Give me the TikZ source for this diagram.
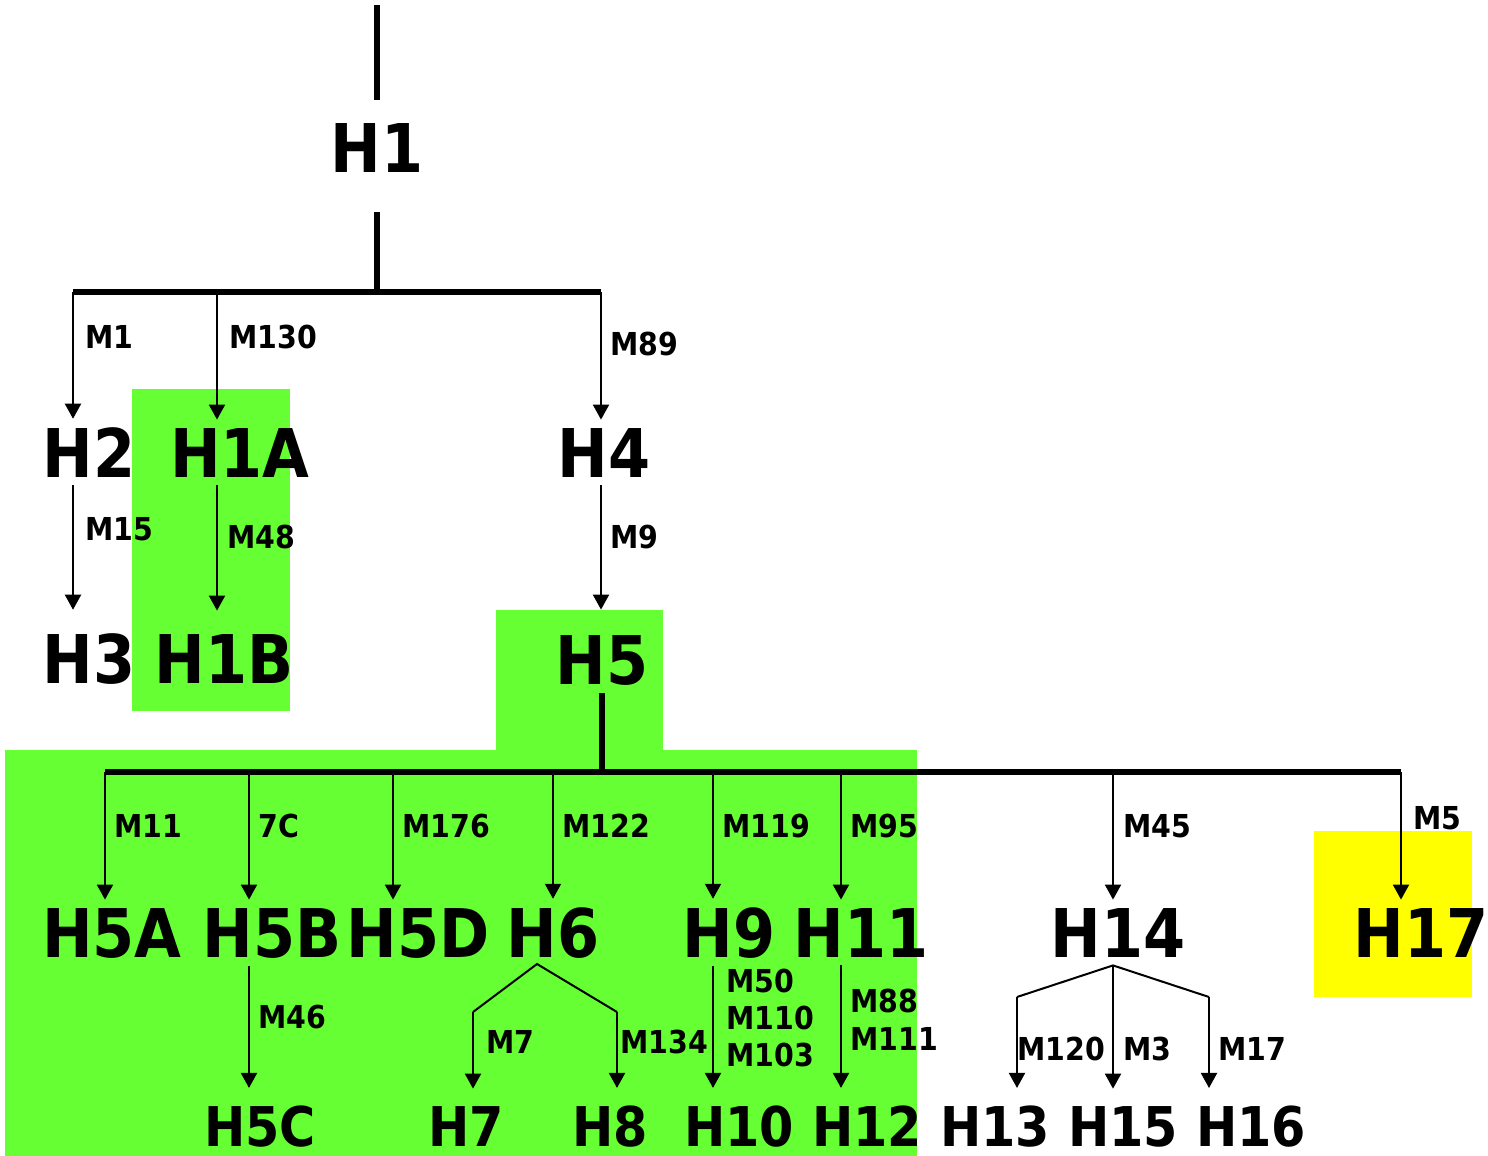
\documentclass[tikz,border=0pt]{standalone}
\usepackage{fontspec}
\setmainfont{DejaVu Sans}[FakeStretch=0.9]
\usetikzlibrary{arrows.meta}
\definecolor{hapgreen}{HTML}{66FF33}
\definecolor{hapyellow}{HTML}{FFFF00}

\tikzset{
  hap/.style={font=\bfseries\fontsize{33.6}{40}\selectfont, anchor=base,
    inner xsep=0pt, inner ysep=4pt},
  hapsmall/.style={hap, font=\bfseries\fontsize{27.4}{33}\selectfont,
    inner ysep=0.5pt},
  mut/.style={font=\bfseries\fontsize{15.8}{19}\selectfont, anchor=base west,
    inner sep=0pt},
  trunk/.style={line width=3pt},
  drop/.style={line width=1pt, -{Triangle[width=8pt,length=7.5pt]}},
  fork/.style={line width=1pt, line join=miter},
}

\begin{document}
\begin{tikzpicture}[x=0.5pt,y=-0.5pt]
	\useasboundingbox (0,0) rectangle (1488,1156);

	% shaded groups
	\fill[hapgreen] (132,389) rectangle (290,711);
	\fill[hapgreen] (496,610) rectangle (663,751);
	\fill[hapgreen] (5,750) rectangle (917,1156);
	\fill[hapyellow] (1314,831) rectangle (1472,997);

	% haplotypes
	\node[hap] (h1) at (377,172) {H1};

	\node[hap] (h2) at (89,477) {H2};
	\node[hap] (h1a) at (240,477) {H1A};
	\node[hap] (h4) at (604,477) {H4};

	\node[hap] (h3) at (89,683) {H3};
	\node[hap] (h1b) at (224,683) {H1B};
	\node[hap] (h5) at (602,684) {H5};

	\node[hap] (h5a) at (112,957) {H5A};
	\node[hap] (h5b) at (272,957) {H5B};
	\node[hap] (h5d) at (418,957) {H5D};
	\node[hap] (h6) at (553,957) {H6};
	\node[hap] (h9) at (729,957) {H9};
	\node[hap] (h11) at (861,957) {H11};
	\node[hap] (h14) at (1118,957) {H14};
	\node[hap] (h17) at (1421,957) {H17};

	\node[hapsmall] (h5c) at (260,1146) {H5C};
	\node[hapsmall] (h7) at (466,1146) {H7};
	\node[hapsmall] (h8) at (610,1146) {H8};
	\node[hapsmall] (h10) at (739,1146) {H10};
	\node[hapsmall] (h12) at (867,1146) {H12};
	\node[hapsmall] (h13) at (995,1146) {H13};
	\node[hapsmall] (h15) at (1123,1146) {H15};
	\node[hapsmall] (h16) at (1251,1146) {H16};

	% branch points
	\coordinate (root) at (377,5);
	\coordinate (b-h2) at (73,292);
	\coordinate (b-h1a) at (217,292);
	\coordinate (b-h4) at (601,292);

	\coordinate (b-h5a) at (105,772);
	\coordinate (b-h5b) at (249,772);
	\coordinate (b-h5d) at (393,772);
	\coordinate (b-h6) at (553,772);
	\coordinate (b-h9) at (713,772);
	\coordinate (b-h11) at (841,772);
	\coordinate (b-h14) at (1113,772);
	\coordinate (b-h17) at (1401,772);

	\coordinate (a6) at (537,964);
	\coordinate (k7) at (473,1012);
	\coordinate (k8) at (617,1012);
	\coordinate (a14) at (b-h14 |- h14.south);
	\coordinate (k13) at (1017,997);
	\coordinate (k16) at (1209,997);

	% trunks
	\draw[trunk, shorten >=7.5pt] (root) -- (root |- h1.north);
	\draw[trunk, shorten <=16pt] (h1.south) -- (h1 |- b-h2);
	\draw[trunk] (b-h2) -- (b-h4);
	\draw[trunk] (h5.south) -- (h5 |- b-h5a);
	\draw[trunk] (b-h5a) -- (b-h17);

	% first split
	\draw[drop] (b-h2) -- (b-h2 |- h2.north);
	\draw[drop] (b-h1a) -- (b-h1a |- h1a.north);
	\draw[drop] (b-h4) -- (b-h4 |- h4.north);
	\draw[drop, shorten >=7.5pt] (b-h2 |- h2.south) -- (b-h2 |- h3.north);
	\draw[drop, shorten >=7.5pt] (b-h1a |- h1a.south) -- (b-h1a |- h1b.north);
	\draw[drop, shorten >=8.5pt] (b-h4 |- h4.south) -- (b-h4 |- h5.north);

	% second split
	\foreach \h in {h5a,h5b,h5d,h6,h9,h11,h14,h17}
		\draw[drop] (b-\h) -- (b-\h |- \h.north);

	\draw[drop, shorten >=8pt] (b-h5b |- h5b.south) -- (b-h5b |- h5c.north);
	\draw[drop, shorten >=8pt] (b-h9 |- h9.south) -- (b-h9 |- h10.north);
	\draw[drop, shorten >=8pt] (b-h11 |- h11.south) -- (b-h11 |- h12.north);

	\draw[fork] (k7) -- (a6) -- (k8);
	\draw[drop, shorten >=8pt] (k7) -- (k7 |- h7.north);
	\draw[drop, shorten >=8pt] (k8) -- (k8 |- h8.north);

	\draw[fork] (k13) -- (a14) -- (k16);
	\draw[drop, shorten >=8pt] (k13) -- (k13 |- h13.north);
	\draw[drop, shorten >=8pt] (a14) -- (a14 |- h15.north);
	\draw[drop, shorten >=8pt] (k16) -- (k16 |- h16.north);

	% mutations
	\node[mut] (m1) at (85,348) {M1};
	\node[mut] (m130) at (229,348) {M130};
	\node[mut] (m89) at (610,355) {M89};
	\node[mut] (m15) at (85,540) {M15};
	\node[mut] (m48) at (227,548) {M48};
	\node[mut] (m9) at (610,548) {M9};

	\node[mut] (m11) at (114,837) {M11};
	\node[mut] (c7) at (258,837) {7C};
	\node[mut] (m176) at (402,837) {M176};
	\node[mut] (m122) at (562,837) {M122};
	\node[mut] (m119) at (722,837) {M119};
	\node[mut] (m95) at (850,837) {M95};
	\node[mut] (m45) at (1123,837) {M45};
	\node[mut] (m5) at (1413,829) {M5};

	\node[mut] (m46) at (258,1028) {M46};
	\node[mut] (m7) at (486,1053) {M7};
	\node[mut] (m134) at (620,1053) {M134};
	\node[mut] (m50) at (726,992) {M50};
	\node[mut] (m110) at (726,1029) {M110};
	\node[mut] (m103) at (726,1066) {M103};
	\node[mut] (m88) at (850,1012) {M88};
	\node[mut] (m111) at (850,1050) {M111};
	\node[mut] (m120) at (1017,1060) {M120};
	\node[mut] (m3) at (1123,1060) {M3};
	\node[mut] (m17) at (1218,1060) {M17};
\end{tikzpicture}
\end{document}
